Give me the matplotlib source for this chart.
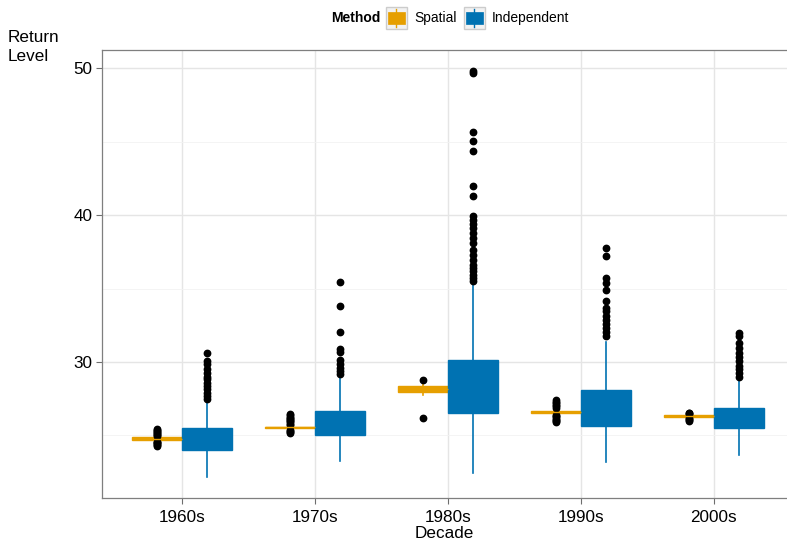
import matplotlib
matplotlib.use("Agg")
import matplotlib.pyplot as plt
from matplotlib.legend_handler import HandlerBase
from matplotlib.patches import Rectangle
from matplotlib.lines import Line2D

plt.rcParams['font.family'] = ['Liberation Sans', 'DejaVu Sans']

decades = ["1960s", "1970s", "1980s", "1990s", "2000s"]
methods = ["Spatial", "Independent"]
colors = {"Spatial": "#E69F00", "Independent": "#0072B2"}

# Spatial: (whislo, q1, med, q3, whishi)
spatial_box = [
    (24.62, 24.70, 24.78, 24.86, 24.93),
    (25.38, 25.47, 25.54, 25.60, 25.66),
    (27.72, 27.95, 28.15, 28.35, 28.70),
    (26.45, 26.55, 26.61, 26.68, 26.78),
    (26.20, 26.26, 26.31, 26.36, 26.42),
]
spatial_fliers = [
    [24.25, 24.32, 24.38, 24.45, 24.52, 24.58, 24.97, 25.04, 25.11, 25.18, 25.25, 25.32, 25.39, 25.45],
    [25.18, 25.24, 25.30, 25.35, 25.72, 25.80, 25.88, 25.96, 26.04, 26.12, 26.20, 26.28, 26.36, 26.43],
    [28.80, 26.16],
    [25.90, 25.98, 26.06, 26.14, 26.22, 26.30, 26.38, 26.88, 26.98, 27.08, 27.18, 27.28, 27.38],
    [25.97, 26.03, 26.09, 26.15, 26.46, 26.50, 26.54],
]
# Independent
indep_box = [
    (22.19, 24.03, 24.60, 25.48, 27.45),
    (23.25, 25.02, 25.70, 26.65, 28.99),
    (22.41, 26.54, 28.00, 30.12, 35.43),
    (23.18, 25.63, 26.70, 28.08, 31.35),
    (23.64, 25.48, 26.10, 26.88, 28.81),
]
indep_fliers = [
    [30.58, 30.06, 29.83, 29.54, 29.27, 28.99, 28.81, 28.59, 28.35, 28.13, 27.90, 27.67, 27.50],
    [35.48, 33.80, 32.03, 30.90, 30.67, 30.12, 29.83, 29.60, 29.37, 29.15],
    [49.85, 49.70, 45.70, 45.07, 44.41, 41.96, 41.28, 39.92, 39.69, 39.40, 39.13, 38.79, 38.45,
     38.11, 37.65, 37.31, 36.97, 36.63, 36.40, 36.18, 35.95, 35.73, 35.50],
    [37.77, 37.20, 35.73, 35.39, 34.93, 34.14, 33.69, 33.46, 33.16, 32.89, 32.62, 32.33, 32.03, 31.76],
    [31.99, 31.80, 31.30, 30.96, 30.63, 30.35, 30.06, 29.71, 29.49, 29.27, 28.99],
]

yticks = [30, 40, 50]

fig = plt.figure(figsize=(7.87, 5.39), dpi=100)
ax = fig.add_axes([102/787, 1 - 498/539, 1 - 102/787, (498 - 50)/539])

def make_stats(boxes, fliers):
    out = []
    for (lo, q1, med, q3, hi), fl in zip(boxes, fliers):
        out.append(dict(whislo=lo, q1=q1, med=med, q3=q3, whishi=hi, fliers=fl))
    return out

width = 0.375
for m, boxes, fliers, off in [("Spatial", spatial_box, spatial_fliers, -width/2),
                              ("Independent", indep_box, indep_fliers, width/2)]:
    c = colors[m]
    pos = [i + 1 + off for i in range(len(decades))]
    ax.bxp(make_stats(boxes, fliers), positions=pos, widths=width, patch_artist=True,
           showcaps=False, manage_ticks=False,
           boxprops=dict(facecolor=c, edgecolor=c, linewidth=1.0),
           medianprops=dict(color=c, linewidth=1.0),
           whiskerprops=dict(color=c, linewidth=1.2),
           flierprops=dict(marker='o', markerfacecolor='black', markeredgecolor='black',
                           markersize=4.6, linestyle='none'),
           zorder=3)

ax.set_xlim(0.4, 5.55)
ax.set_ylim(20.73, 51.26)
ax.set_xticks(range(1, len(decades) + 1))
ax.set_xticklabels(decades)
ax.set_yticks(yticks)
ax.set_yticks([25, 35, 45], minor=True)
ax.tick_params(axis='both', which='major', labelsize=12.3, length=4, color='#6E6E6E',
               labelcolor='black', width=0.8)
ax.tick_params(axis='x', which='major', pad=5)
ax.tick_params(axis='y', which='major', pad=3)
ax.tick_params(axis='y', which='minor', length=0)
ax.grid(True, which='major', color='#E5E5E5', linewidth=1.0, zorder=0)
ax.grid(True, which='minor', axis='y', color='#F2F2F2', linewidth=0.6, zorder=0)
ax.set_axisbelow(True)
for s in ['left', 'bottom', 'top']:
    ax.spines[s].set_color('#7F7F7F')
    ax.spines[s].set_linewidth(0.9)
ax.spines['right'].set_visible(False)

ax.set_xlabel("Decade", fontsize=12.3, labelpad=0)
fig.text(8/787, 1 - 47/539, "Return\nLevel", fontsize=12.3, ha='left', va='center',
         linespacing=1.3)

class BoxKey(HandlerBase):
    def __init__(self, color):
        super().__init__()
        self.color = color
    def create_artists(self, legend, orig_handle, xdescent, ydescent, width, height, fontsize, trans):
        s = min(width, height)
        x0 = -xdescent + (width - s) / 2
        y0 = -ydescent + (height - s) / 2
        bg = Rectangle((x0, y0), s, s, facecolor='#F2F2F2', edgecolor='#CCCCCC', lw=1.0, transform=trans)
        inner = Rectangle((x0 + 0.1*s, y0 + 0.22*s), 0.8*s, 0.56*s, facecolor=self.color,
                          edgecolor=self.color, lw=0.5, transform=trans)
        ln = Line2D([x0 + s/2, x0 + s/2], [y0 + 0.06*s, y0 + 0.94*s], color=self.color, lw=1.0,
                    transform=trans)
        return [bg, inner, ln]

h_sp = Rectangle((0, 0), 1, 1)
h_in = Rectangle((0, 0), 1, 1)
leg = fig.legend([h_sp, h_in], methods, loc='center', bbox_to_anchor=(476/787, 1 - 18/539),
                 ncol=2, frameon=False, fontsize=10, handlelength=1.95, handleheight=1.95,
                 handletextpad=0.3, columnspacing=0.3, borderpad=0, borderaxespad=0,
                 handler_map={h_sp: BoxKey(colors["Spatial"]), h_in: BoxKey(colors["Independent"])})
fig.text(380/787, 1 - 18/539, "Method", fontsize=10, fontweight='bold', ha='right', va='center')

fig.savefig("out.png", dpi=100)
